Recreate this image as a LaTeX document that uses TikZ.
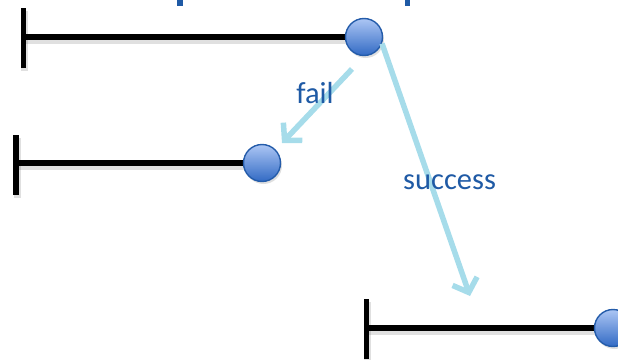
\documentclass[tikz,border=0pt]{standalone}
\usepackage{fontspec}
\setmainfont{Carlito}
\usetikzlibrary{arrows.meta,shadows}

\definecolor{labelblue}{RGB}{31,90,165}
\definecolor{arrowblue}{RGB}{166,220,234}
\definecolor{ballTop}{RGB}{172,198,244}
\definecolor{ballBot}{RGB}{50,106,196}
\definecolor{ballEdge}{RGB}{36,92,170}

\tikzset{
  bar/.style={line width=5.8pt, black},
  barshadow/.style={line width=7pt, black, opacity=0.12},
  ball/.style={circle, minimum size=37pt, inner sep=0pt, draw=ballEdge,
    line width=1.4pt, top color=ballTop, bottom color=ballBot,
    drop shadow={opacity=0.25, shadow xshift=1.5pt, shadow yshift=-2.5pt}},
  move/.style={line width=5.5pt, arrowblue,
    -{Straight Barb[length=12pt, width=26pt, line width=5.5pt]}},
  lbl/.style={text=labelblue, font=\fontsize{30.5}{30.5}\selectfont, inner sep=0pt, anchor=base},
  glyph/.style={fill=labelblue, draw=none}
}

\begin{document}
\begin{tikzpicture}[x=1pt, y=-1pt]
  \useasboundingbox (0,0) rectangle (618,359);

  % lower parts of the heading letters along the top edge
  \fill[glyph] (177,0) rectangle (183,6);
  \fill[glyph] (405,0) rectangle (410,6);

  % ball positions (drawn last, above the rods)
  \coordinate (b1) at (364,37);
  \coordinate (b2) at (262,163);
  \coordinate (b3) at (613,328);

  % bar ends
  \coordinate (s1) at (23.5,37);
  \coordinate (s2) at (16,163);
  \coordinate (s3) at (366.5,328);

  % soft shadows under the bars
  \draw[barshadow] ([shift={(1,3)}]s1) -- ([shift={(1,3)}]b1);
  \draw[barshadow] ([shift={(1,3)}]s2) -- ([shift={(1,3)}]b2);
  \draw[barshadow] ([shift={(1,3)}]s3) -- ([shift={(1,3)}]b3);
  \draw[barshadow] (24.5,11) -- (24.5,71);
  \draw[barshadow] (17,138) -- (17,198);
  \draw[barshadow] (367.5,302) -- (367.5,362);

  % bars: stem plus horizontal rod
  \draw[bar] (23.5,8) -- (23.5,68);
  \draw[bar] (s1) -- (b1);
  \draw[bar] (16,135) -- (16,195);
  \draw[bar] (s2) -- (b2);
  \draw[bar] (366.5,299) -- (366.5,359);
  \draw[bar] (s3) -- (b3);

  % balls
  \node[ball] (n1) at (b1) {};
  \node[ball] (n2) at (b2) {};
  \node[ball] (n3) at (b3) {};

  % transitions
  \coordinate (f0) at (352,69);
  \coordinate (f1) at (282,143);
  \coordinate (t1) at (470,296);
  \draw[move] (f0) -- (f1);
  \draw[move] (n1.-20) -- (t1);

  % labels
  \node[lbl] (fail) at (315,103) {fail};
  \node[lbl, anchor=base west] (succ) at (403,189) {success};
\end{tikzpicture}
\end{document}
